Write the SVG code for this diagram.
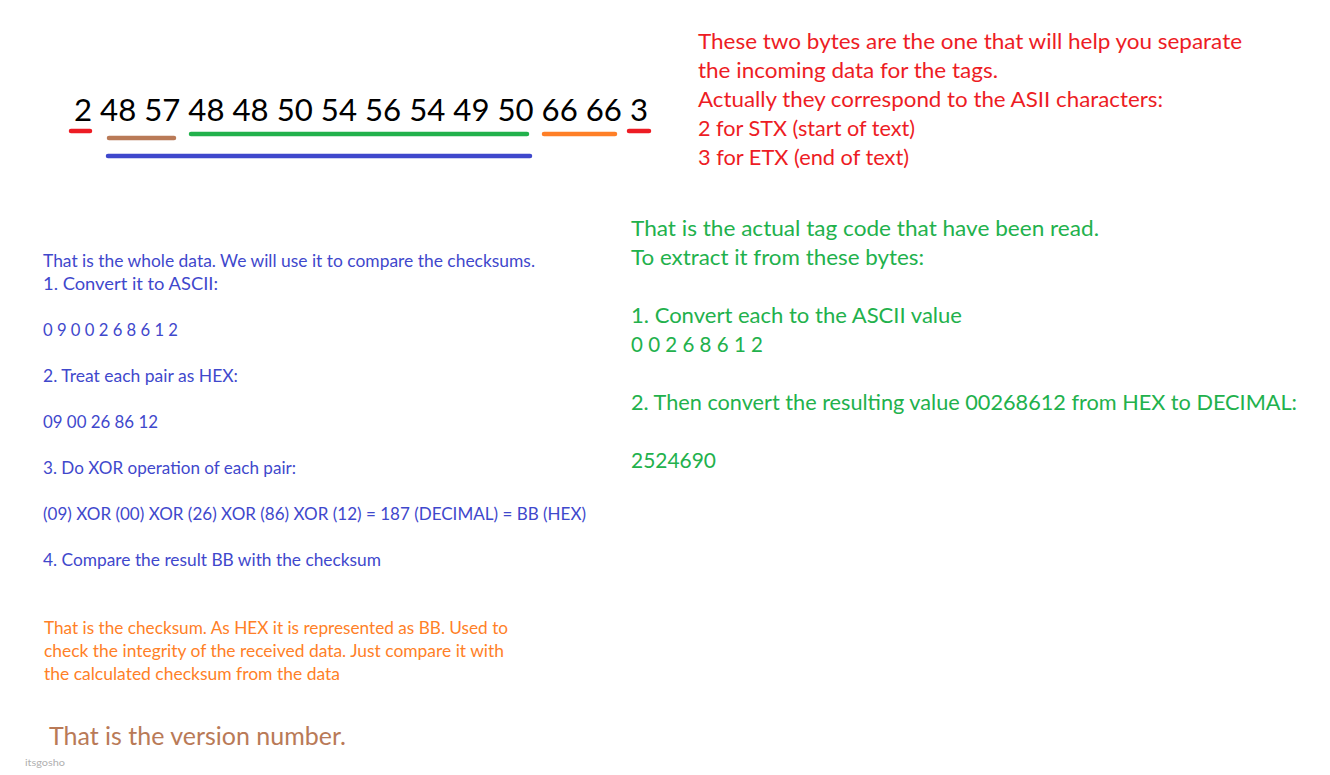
<svg xmlns="http://www.w3.org/2000/svg" width="1330" height="775" viewBox="0 0 1330 775">
<style>
text{font-family:Lato,"Open Sans","Liberation Sans",sans-serif;}
.num{font-size:30px;fill:#000;}
.red{font-size:21.5px;fill:#ed1c24;}
.green{font-size:21.5px;fill:#22b14c;}
.blue{font-size:17px;fill:#3f48cc;}
.orange{font-size:17px;fill:#ff7f27;}
.brown{font-size:25px;fill:#b97a57;}
.sig{font-size:10px;fill:#b0b0b0;}
.u{stroke-width:4.5;stroke-linecap:round;fill:none;}
</style>
<rect width="1330" height="775" fill="#fff"/>
<g id="bytes">
<text class="num" x="74" y="121" textLength="574" lengthAdjust="spacingAndGlyphs">2 48 57 48 48 50 54 56 54 49 50 66 66 3</text>
</g>
<g id="connectors">
<line class="u" x1="71" y1="131" x2="90" y2="131" stroke="#ed1c24"/>
<line class="u" x1="629" y1="131" x2="649" y2="131" stroke="#ed1c24"/>
<line class="u" x1="109" y1="138" x2="174" y2="138" stroke="#b97a57"/>
<line class="u" x1="191" y1="134" x2="527" y2="134" stroke="#22b14c"/>
<line class="u" x1="544" y1="134" x2="615" y2="134" stroke="#ff7f27"/>
<line class="u" x1="108" y1="156" x2="530" y2="156" stroke="#3f48cc"/>
</g>
<g id="stx-etx-note">
<text class="red" x="698" y="49" textLength="544" lengthAdjust="spacingAndGlyphs">These two bytes are the one that will help you separate</text>
<text class="red" x="698" y="78" textLength="300" lengthAdjust="spacingAndGlyphs">the incoming data for the tags.</text>
<text class="red" x="698" y="107" textLength="465" lengthAdjust="spacingAndGlyphs">Actually they correspond to the ASII characters:</text>
<text class="red" x="698" y="136" textLength="217" lengthAdjust="spacingAndGlyphs">2 for STX (start of text)</text>
<text class="red" x="698" y="165" textLength="211" lengthAdjust="spacingAndGlyphs">3 for ETX (end of text)</text>
</g>
<g id="tag-note">
<text class="green" x="631" y="236" textLength="468" lengthAdjust="spacingAndGlyphs">That is the actual tag code that have been read.</text>
<text class="green" x="631" y="265" textLength="293" lengthAdjust="spacingAndGlyphs">To extract it from these bytes:</text>
<text class="green" x="631" y="323" textLength="331" lengthAdjust="spacingAndGlyphs">1. Convert each to the ASCII value</text>
<text class="green" x="631" y="352" textLength="132" lengthAdjust="spacingAndGlyphs">0 0 2 6 8 6 1 2</text>
<text class="green" x="631" y="410" textLength="666" lengthAdjust="spacingAndGlyphs">2. Then convert the resulting value 00268612 from HEX to DECIMAL:</text>
<text class="green" x="631" y="468" textLength="85" lengthAdjust="spacingAndGlyphs">2524690</text>
</g>
<g id="data-note">
<text class="blue" x="43" y="267" textLength="492" lengthAdjust="spacingAndGlyphs">That is the whole data. We will use it to compare the checksums.</text>
<text class="blue" x="43" y="290" textLength="175" lengthAdjust="spacingAndGlyphs">1. Convert it to ASCII:</text>
<text class="blue" x="43" y="336" textLength="135" lengthAdjust="spacingAndGlyphs">0 9 0 0 2 6 8 6 1 2</text>
<text class="blue" x="43" y="382" textLength="195" lengthAdjust="spacingAndGlyphs">2. Treat each pair as HEX:</text>
<text class="blue" x="43" y="428" textLength="115" lengthAdjust="spacingAndGlyphs">09 00 26 86 12</text>
<text class="blue" x="43" y="474" textLength="253" lengthAdjust="spacingAndGlyphs">3. Do XOR operation of each pair:</text>
<text class="blue" x="43" y="520" textLength="543" lengthAdjust="spacingAndGlyphs">(09) XOR (00) XOR (26) XOR (86) XOR (12) = 187 (DECIMAL) = BB (HEX)</text>
<text class="blue" x="43" y="566" textLength="338" lengthAdjust="spacingAndGlyphs">4. Compare the result BB with the checksum</text>
</g>
<g id="checksum-note">
<text class="orange" x="44" y="634" textLength="464" lengthAdjust="spacingAndGlyphs">That is the checksum. As HEX it is represented as BB. Used to</text>
<text class="orange" x="44" y="657" textLength="460" lengthAdjust="spacingAndGlyphs">check the integrity of the received data. Just compare it with</text>
<text class="orange" x="44" y="680" textLength="296" lengthAdjust="spacingAndGlyphs">the calculated checksum from the data</text>
</g>
<g id="version-note">
<text class="brown" x="49" y="745" textLength="297" lengthAdjust="spacingAndGlyphs">That is the version number.</text>
</g>
<text class="sig" x="25" y="766" textLength="40" lengthAdjust="spacingAndGlyphs">itsgosho</text>
</svg>
